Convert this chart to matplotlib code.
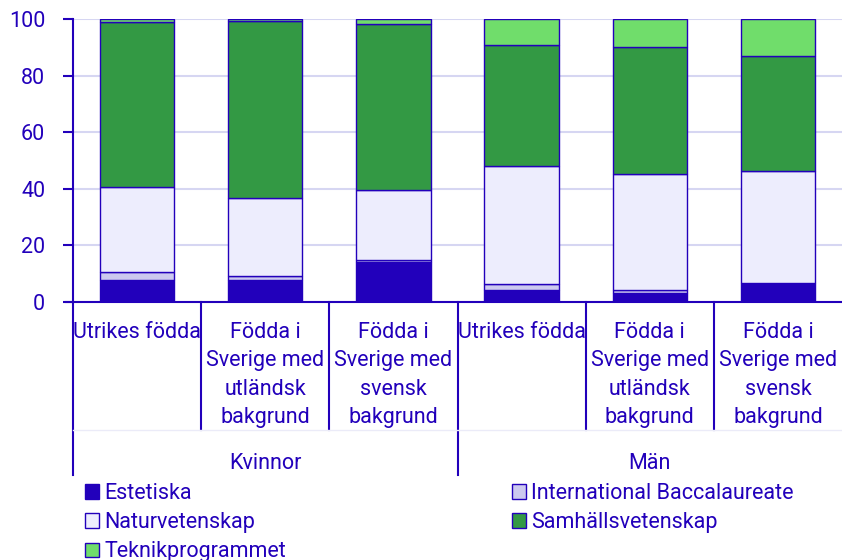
import matplotlib
matplotlib.use('Agg')
import matplotlib.pyplot as plt
from matplotlib.patches import Rectangle
import numpy as np

plt.rcParams['font.family'] = ['Roboto', 'DejaVu Sans']

# data (andel i procent)
kategorier = ['Utrikes födda', 'Födda i\nSverige med\nutländsk\nbakgrund', 'Födda i\nSverige med\nsvensk\nbakgrund',
              'Utrikes födda', 'Födda i\nSverige med\nutländsk\nbakgrund', 'Födda i\nSverige med\nsvensk\nbakgrund']
grupper = ['Kvinnor', 'Män']
program = ['Estetiska', 'International Baccalaureate', 'Naturvetenskap', 'Samhällsvetenskap', 'Teknikprogrammet']
estetiska = [7.7, 7.7, 14.2, 4.1, 3.2, 6.7]
ib = [2.9, 1.4, 0.6, 2.4, 1.2, 0.1]
natur = [30.2, 27.5, 24.9, 41.5, 40.7, 39.4]
samhall = [58.1, 62.7, 58.5, 42.9, 45.1, 40.7]
teknik = [1.1, 0.7, 1.8, 9.1, 9.8, 13.2]

blue = '#2200bb'
farger = [blue, '#ccc9ef', '#ededfd', '#339944', '#70dd6b']
fs = 15.5

fig = plt.figure(figsize=(8.42, 5.6), dpi=100)
ax = fig.add_axes([73/842, 1-302/560, 1-73/842, 283/560])

x = np.arange(len(kategorier)) + 0.5
bottom = np.zeros(len(kategorier))
for vals, c in zip([estetiska, ib, natur, samhall, teknik], farger):
    ax.bar(x, vals, 0.58, bottom=bottom, color=c, edgecolor=blue, linewidth=1, zorder=3)
    bottom += np.array(vals)

ax.set_xlim(0, 6)
ax.set_ylim(0, 100)
ax.set_yticks([0, 20, 40, 60, 80, 100])
ax.grid(axis='y', color='#d6d6f2', linewidth=1.5, zorder=0)
ax.tick_params(axis='y', colors=blue, labelcolor=blue, labelsize=fs, length=7, width=1.5, pad=13)
ax.set_xticks([])
for s in ['top', 'right', 'bottom']:
    ax.spines[s].set_visible(False)
ax.spines['left'].set_color(blue)
ax.spines['left'].set_linewidth(1.5)

tr = ax.get_xaxis_transform()
# baslinje
ax.plot([-0.055, 6], [0, 0], color=blue, lw=1.5, transform=tr, clip_on=False, zorder=4)
# avdelare
for i in range(6):
    djup = -0.611 if i in (0, 3) else -0.452
    ax.plot([i, i], [0, djup], color=blue, lw=1.5, transform=tr, clip_on=False)
ax.plot([0, 6], [-0.452, -0.452], color='#ebebf8', lw=1, transform=tr, clip_on=False)

for xi, lab in zip(x, kategorier):
    ax.text(xi, -0.07, lab, transform=tr, ha='center', va='top', color=blue,
            fontsize=fs, linespacing=1.47)
for gi, g in enumerate(grupper):
    ax.text(1.5 + 3*gi, -0.572, g, transform=tr, ha='center', va='center', color=blue, fontsize=fs)

handles = [Rectangle((0, 0), 1, 1, facecolor=c, edgecolor=blue, lw=1) for c in farger]
kw = dict(frameon=False, fontsize=fs, handlelength=0.65, handleheight=0.65, handletextpad=0.25,
          labelspacing=0.38, labelcolor=blue, borderaxespad=0, borderpad=0)
fig.legend([handles[0], handles[2], handles[4]], [program[0], program[2], program[4]],
           loc='upper left', bbox_to_anchor=(85/842, 1-483/560), **kw)
fig.legend([handles[1], handles[3]], [program[1], program[3]],
           loc='upper left', bbox_to_anchor=(512/842, 1-483/560), **kw)

fig.savefig('out.png', dpi=100)
